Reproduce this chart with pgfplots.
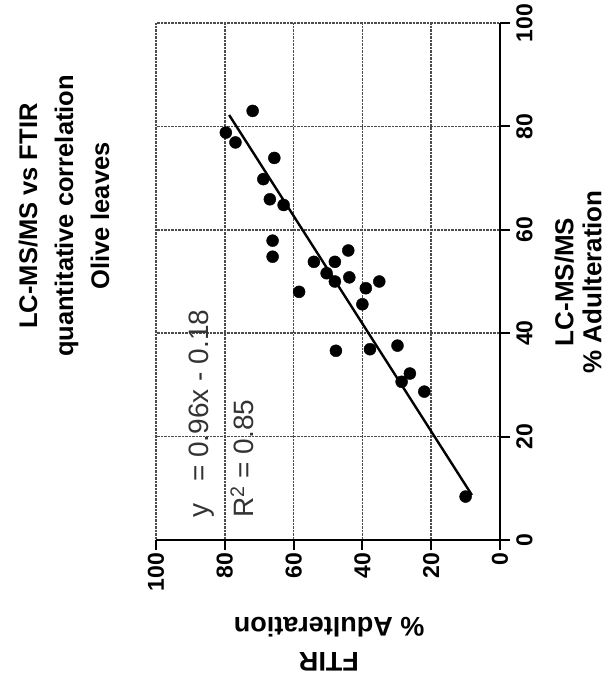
\documentclass[border=0pt]{standalone}
\usepackage{pgfplots}
\pgfplotsset{compat=1.18}
\usepackage{fontspec}
\setmainfont{Liberation Sans}
\begin{document}
\begin{tikzpicture}
\useasboundingbox (0pt,0pt) rectangle (613pt,689pt);
\begin{axis}[
  scale only axis, width=344pt, height=517pt,
  at={(328pt,407.5pt)}, anchor=center,
  xmin=0, xmax=100, ymin=0, ymax=100,
  x dir=reverse,
  axis x line*=bottom, axis y line*=right,
  axis line style={-, line width=2.4pt, black},
  xtick={0,20,...,100}, ytick={0,20,...,100},
  tick align=outside, major tick length=10pt,
  tick style={line width=2pt, black},
  grid=major, grid style={densely dotted, line width=1.6pt, black!70},
  /pgf/number format/assume math mode=true,
  tick label style={font=\bfseries\fontsize{23}{23}\selectfont, inner sep=0pt},
  xticklabel style={rotate=90, anchor=east},
  yticklabel style={rotate=90, anchor=north},
  xticklabel shift=3pt, yticklabel shift=6pt,
  yticklabel pos=right,
  clip=false,
]
\addplot[only marks, mark=*, mark size=6pt, black] coordinates {
(71.9,83.0) (79.7,78.8) (76.9,76.9) (65.6,73.9) (68.8,69.8) (66.9,65.9)
(62.9,64.8) (66.1,57.9) (66.1,54.8) (44.1,56.0) (54.1,53.8) (48.0,53.8)
(50.4,51.6) (48.0,50.0) (43.8,50.8) (35.1,50.0) (39.0,48.7) (58.4,48.0)
(40.0,45.6) (47.7,36.6) (37.8,36.9) (29.8,37.6) (26.2,32.2) (28.6,30.6)
(22.0,28.7) (10.0,8.4)
};
\addplot[black, line width=2.4pt] coordinates {(78.73,82.2) (8.17,8.7)};
\end{axis}
\node[rotate=90, align=center, font=\bfseries\fontsize{25.5}{36}\selectfont, inner sep=0pt] at (64pt,473pt) {LC-MS/MS vs FTIR\\quantitative correlation\\Olive leaves};
\node[rotate=90, align=center, font=\bfseries\fontsize{26}{28}\selectfont, inner sep=0pt] at (578pt,407pt) {LC-MS/MS\\\% Adulteration};
\node[rotate=180, align=center, font=\bfseries\fontsize{27}{35}\selectfont, inner sep=0pt] at (329pt,45pt) {FTIR\\\% Adulteration};
\node[rotate=90, anchor=west, inner sep=0pt, font=\fontsize{28}{28}\selectfont, text=black!80] at (202pt,171pt) {y\hspace{22pt}= 0.96x - 0.18};
\node[rotate=90, anchor=west, inner sep=0pt, font=\fontsize{28}{28}\selectfont, text=black!80] at (242pt,171pt) {R\textsuperscript{2} = 0.85};
\end{tikzpicture}
\end{document}
